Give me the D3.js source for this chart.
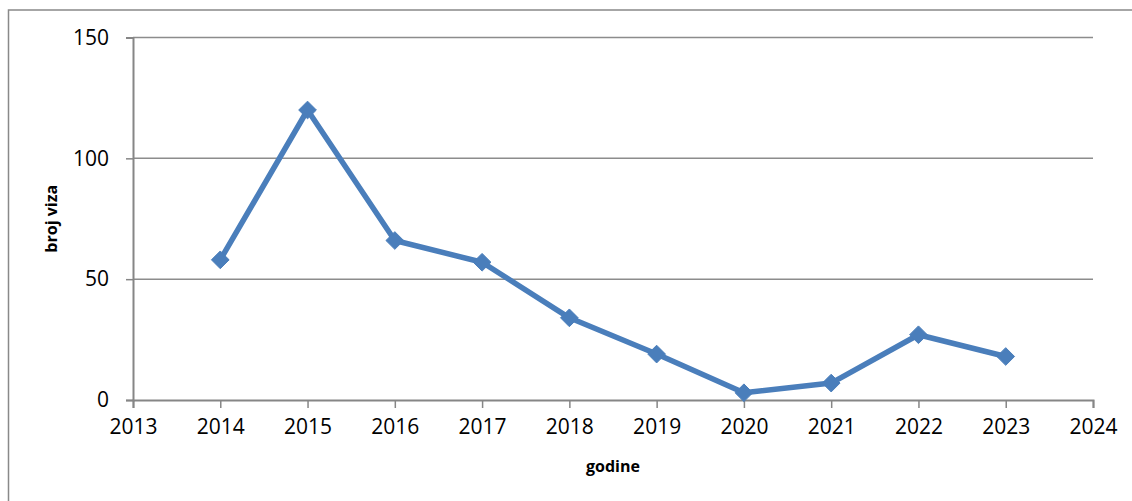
<!DOCTYPE html>
<html>
<head>
<meta charset="utf-8">
<script src="https://cdn.jsdelivr.net/npm/d3@7"></script>
<style>
  body { margin: 0; background: #fff; }
  svg { display: block; }
  svg text { font-family: "Open Sans", sans-serif; }
</style>
</head>
<body>
<div id="chart"></div>
<script>
const years = [2014, 2015, 2016, 2017, 2018, 2019, 2020, 2021, 2022, 2023];
const visas = [58, 120, 66, 57, 34, 19, 3, 7, 27, 18];
const xTicks = [2013, 2014, 2015, 2016, 2017, 2018, 2019, 2020, 2021, 2022, 2023, 2024];
const yTicks = [0, 50, 100, 150];

const width = 1132, height = 501;
const margin = { left: 133, right: 39, top: 37.5, bottom: 101 };

const svg = d3.select("#chart").append("svg")
  .attr("width", width)
  .attr("height", height);

// outer chart frame (right and bottom edges fall outside the picture)
svg.append("rect")
  .attr("x", 8.5).attr("y", 10)
  .attr("width", 1130).attr("height", 500)
  .attr("fill", "none")
  .attr("stroke", "#898989")
  .attr("stroke-width", 1.5);

const x = d3.scaleLinear()
  .domain([2013, 2024])
  .range([margin.left, width - margin.right]);

const y = d3.scaleLinear()
  .domain([0, 150])
  .range([height - margin.bottom, margin.top]);

// gridlines
svg.append("g")
  .selectAll("line")
  .data(yTicks.filter(d => d > 0))
  .join("line")
  .attr("x1", x(2013)).attr("x2", x(2024))
  .attr("y1", d => y(d)).attr("y2", d => y(d))
  .attr("stroke", "#8c8c8c")
  .attr("stroke-width", 1.5);

// y axis
const yAxis = svg.append("g")
  .attr("transform", `translate(${x(2013)},0)`)
  .call(d3.axisLeft(y).tickValues(yTicks).tickSize(7).tickPadding(17));
yAxis.attr("font-family", null);
yAxis.select(".domain").attr("stroke", "#868686").attr("stroke-width", 2);
yAxis.selectAll(".tick line").attr("stroke", "#868686").attr("stroke-width", 1.5);
yAxis.selectAll(".tick text")
  .attr("fill", "#000")
  .style("font-size", "21px");

// x axis
const xAxis = svg.append("g")
  .attr("transform", `translate(0,${y(0)})`)
  .call(d3.axisBottom(x).tickValues(xTicks).tickFormat(d3.format("d")).tickSize(8).tickPadding(11));
xAxis.attr("font-family", null);
xAxis.select(".domain").attr("stroke", "#868686").attr("stroke-width", 2);
xAxis.selectAll(".tick line").attr("stroke", "#868686").attr("stroke-width", 1.5);
xAxis.selectAll(".tick text")
  .attr("fill", "#000")
  .style("font-size", "21px");

// axis titles
svg.append("text")
  .attr("x", (x(2013) + x(2024)) / 2)
  .attr("y", 472)
  .attr("text-anchor", "middle")
  .style("font-size", "16px")
  .style("font-weight", "bold")
  .text("godine");

svg.append("text")
  .attr("transform", `translate(57,${(y(0) + y(150)) / 2}) rotate(-90)`)
  .attr("text-anchor", "middle")
  .style("font-size", "16px")
  .style("font-weight", "bold")
  .text("broj viza");

// series
const data = years.map((yr, i) => ({ year: yr, value: visas[i] }));

svg.append("path")
  .datum(data)
  .attr("fill", "none")
  .attr("stroke", "#4a7ebb")
  .attr("stroke-width", 5.5)
  .attr("stroke-linejoin", "round")
  .attr("d", d3.line().x(d => x(d.year)).y(d => y(d.value)));

svg.append("g")
  .selectAll("path")
  .data(data)
  .join("path")
  .attr("transform", d => `translate(${x(d.year)},${y(d.value)})`)
  .attr("d", d3.symbol(d3.symbolDiamond2, 200)())
  .attr("fill", "#4a7ebb")
  .attr("stroke", "#4a7ebb")
  .attr("stroke-width", 1);
</script>
</body>
</html>
